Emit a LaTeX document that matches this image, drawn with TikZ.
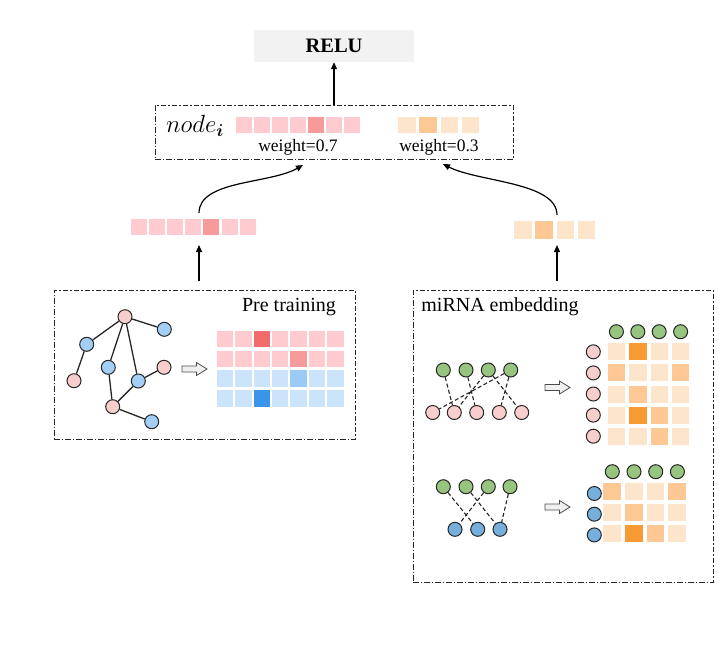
\documentclass[tikz,border=0pt]{standalone}
\usepackage{amsmath,bm}
\usepackage{fontspec}
\setmainfont{Liberation Serif}
\usetikzlibrary{arrows.meta}
\definecolor{pL}{HTML}{FFCBCE}
\definecolor{pD}{HTML}{F79A9B}
\definecolor{rD}{HTML}{F26C6C}
\definecolor{bL}{HTML}{CCE4FB}
\definecolor{bM}{HTML}{9BCAF7}
\definecolor{bD}{HTML}{3C93EA}
\definecolor{oL}{HTML}{FDE5CC}
\definecolor{oM}{HTML}{FDC893}
\definecolor{oD}{HTML}{F89A33}
\definecolor{npink}{HTML}{F8CECC}
\definecolor{nblue}{HTML}{A3CFF6}
\definecolor{nblueb}{HTML}{76AEDC}
\definecolor{ngreen}{HTML}{97C47E}
\begin{document}
\begin{tikzpicture}[x=1pt,y=-1pt,
  box/.style={draw=black!85, line width=1pt, dash pattern=on 5.5pt off 2pt on 1.5pt off 2pt},
  gnode/.style={circle, draw=black!85, line width=1pt, minimum size=14pt, inner sep=0pt},
  pnode/.style={gnode, fill=npink},
  bnode/.style={gnode, fill=nblue},
  bbnode/.style={gnode, fill=nblueb},
  grnode/.style={gnode, fill=ngreen},
  edge/.style={line width=1.3pt, draw=black!85},
  dedge/.style={line width=1.1pt, draw=black!85, dash pattern=on 4pt off 2.5pt},
  arr/.style={-{Triangle[length=7pt,width=6pt]}, line width=1.2pt},
  hollow/.pic={\draw[fill=gray!12, draw=black!70, line width=0.8pt] (-12.5,-3) -- (2,-3) -- (2,-6.5) -- (12.5,0) -- (2,6.5) -- (2,3) -- (-12.5,3) -- cycle;}
]
\useasboundingbox (0,0) rectangle (727,649);

% RELU and node box
\node[fill=gray!10, minimum width=160pt, minimum height=32pt] (relu) at (334,46) {\fontsize{20.5}{24}\selectfont\bfseries RELU};
\node[box, minimum width=358pt, minimum height=54pt] (nodebox) at (334,132) {};
\draw[arr] (nodebox.north) -- (relu.south);
\node (nodei) at (195,126) {\fontsize{23}{26}\selectfont $node_{\bm{i}}$};
\foreach \c [count=\i from 0] in {pL,pL,pL,pL,pD,pL,pL}
  \fill[\c] (236+\i*18,117) rectangle ++(16,16);
\foreach \c [count=\i from 0] in {oL,oM,oL,oL}
  \fill[\c] (398+\i*21.3,117) rectangle ++(17.5,16);
\node (w1) at (298,147) {\fontsize{17.5}{20}\selectfont weight=0.7};
\node (w2) at (439,147) {\fontsize{17.5}{20}\selectfont weight=0.3};

% middle vectors
\foreach \c [count=\i from 0] in {pL,pL,pL,pL,pD,pL,pL}
  \fill[\c] (131+\i*18.1,219) rectangle ++(16,16);
\foreach \c [count=\i from 0] in {oL,oM,oL,oL}
  \fill[\c] (514+\i*21.3,221) rectangle ++(17.5,17.5);
\coordinate (cL) at (199,213);
\coordinate (cR) at (557,215);
\coordinate (tL) at (303,165);
\coordinate (tR) at (443,164);
\draw[arr] (cL) .. controls (199,180) and (270,184) .. (tL);
\draw[arr] (cR) .. controls (557,182) and (478,182) .. (tR);
\coordinate (sL) at (199,281);
\coordinate (eL) at (199,245);
\coordinate (sR) at (557,281);
\coordinate (eR) at (557,245);
\draw[arr] (sL) -- (eL);
\draw[arr] (sR) -- (eR);

% left box
\node[box, minimum width=301pt, minimum height=149pt] (leftbox) at (204.5,364.5) {};
\node (pretrain) at (289,307) {\fontsize{20}{24}\selectfont Pre training};
\node[pnode] (a1) at (125,316.7) {};
\node[bnode] (a2) at (164.3,329.3) {};
\node[bnode] (a3) at (86.7,344.3) {};
\node[pnode] (a4) at (74,380.7) {};
\node[bnode] (a5) at (108.3,367.3) {};
\node[pnode] (a6) at (164,367.3) {};
\node[bnode] (a7) at (138.3,381) {};
\node[pnode] (a8) at (112.7,406.7) {};
\node[bnode] (a9) at (151.7,421.7) {};
\draw[edge] (a1) -- (a2);
\draw[edge] (a1) -- (a3);
\draw[edge] (a3) -- (a4);
\draw[edge] (a1) -- (a5);
\draw[edge] (a1) -- (a7);
\draw[edge] (a5) -- (a8);
\draw[edge] (a7) -- (a8);
\draw[edge] (a7) -- (a6);
\draw[edge] (a8) -- (a9);
\pic at (194.5,369) {hollow};
\foreach \r/\cl in {0/{pL,pL,rD,pL,pL,pL,pL},1/{pL,pL,pL,pL,pD,pL,pL},2/{bL,bL,bL,bL,bM,bL,bL},3/{bL,bL,bD,bL,bL,bL,bL}}
  \foreach \c [count=\i from 0] in \cl
    \fill[\c] (216.7+\i*18.4,330.7+\r*19.8) rectangle ++(16.5,16.5);

% right box
\node[box, minimum width=300pt, minimum height=292pt] (rightbox) at (563,436) {};
\node (mirna) at (500,307) {\fontsize{20}{24}\selectfont miRNA embedding};
% top bipartite
\node[grnode] (g1) at (443.3,370) {};
\node[grnode] (g2) at (466,370) {};
\node[grnode] (g3) at (488.3,370) {};
\node[grnode] (g4) at (510.7,370) {};
\node[pnode] (p1) at (432.7,412.5) {};
\node[pnode] (p2) at (454.3,412.5) {};
\node[pnode] (p3) at (476.7,412.5) {};
\node[pnode] (p4) at (499.3,412.5) {};
\node[pnode] (p5) at (521.7,412.5) {};
\draw[dedge] (g1) -- (p2);
\draw[dedge] (g2) -- (p3);
\draw[dedge] (g3) -- (p5);
\draw[dedge] (g3) -- (p2);
\draw[dedge] (g4) -- (p1);
\draw[dedge] (g4) -- (p4);
\pic at (557.5,387.5) {hollow};
\foreach \i [count=\k] in {0,1,2,3}
  \node[grnode] (hg\k) at (616.4+\i*21.4,331.7) {};
\foreach \r [count=\k] in {0,1,2,3,4}
  \node[pnode] (rp\k) at (593.3,351.8+\r*21.1) {};
\foreach \r/\cl in {0/{oL,oD,oL,oL},1/{oM,oL,oL,oM},2/{oL,oM,oL,oL},3/{oL,oD,oM,oL},4/{oL,oL,oM,oL}}
  \foreach \c [count=\i from 0] in \cl
    \fill[\c] (607.7+\i*21.4,343.3+\r*21.1) rectangle ++(17.5,17);
% bottom bipartite
\node[grnode] (q1) at (443.3,486.7) {};
\node[grnode] (q2) at (466,486.7) {};
\node[grnode] (q3) at (488.3,486.7) {};
\node[grnode] (q4) at (510,486.7) {};
\node[bbnode] (u1) at (455,529.3) {};
\node[bbnode] (u2) at (477.7,529.3) {};
\node[bbnode] (u3) at (500,529.3) {};
\draw[dedge] (q1) -- (u2);
\draw[dedge] (q2) -- (u3);
\draw[dedge] (q3) -- (u1);
\draw[dedge] (q4) -- (u3);
\pic at (557.5,507) {hollow};
\foreach \i [count=\k] in {0,1,2,3}
  \node[grnode] (hq\k) at (612.3+\i*21.7,471.7) {};
\foreach \r [count=\k] in {0,1,2}
  \node[bbnode] (ru\k) at (594.3,493.5+\r*20.7) {};
\foreach \r/\cl in {0/{oM,oL,oL,oM},1/{oL,oM,oL,oL},2/{oL,oD,oM,oL}}
  \foreach \c [count=\i from 0] in \cl
    \fill[\c] (603.3+\i*21.7,483.3+\r*20.7) rectangle ++(17.5,17);
\end{tikzpicture}
\end{document}
